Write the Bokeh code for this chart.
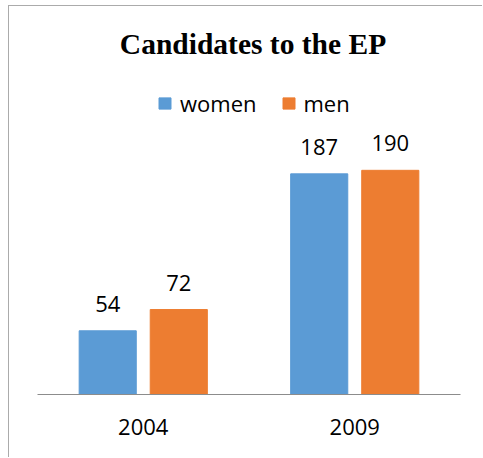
from bokeh.plotting import figure
from bokeh.models import (ColumnDataSource, FactorRange, Range1d, LabelSet, Legend,
                          LegendItem, Label)
from bokeh.transform import dodge
from bokeh.core.properties import value
from bokeh.embed import file_html
from bokeh.resources import INLINE

# ---- data ----
years = ["2004", "2009"]
women = [54, 187]
men = [72, 190]
series = ["women", "men"]
colors = ["#5B9BD5", "#ED7D31"]
title_text = "Candidates to the EP"

src = ColumnDataSource(dict(
    year=years, women=women, men=men,
    women_lbl=[str(v) for v in women],
    men_lbl=[str(v) for v in men],
))

LABEL_FONT = "Open Sans"

p = figure(width=474, height=452,
           x_range=FactorRange(factors=years, range_padding=0),
           y_range=Range1d(0, 324.6),
           output_backend="svg", toolbar_location=None,
           y_axis_location=None,
           min_border_left=28, min_border_right=23,
           min_border_top=5, min_border_bottom=64)
# chart-area border (top and left edges of the chart box)
p.margin = (6, 0, 0, 9)
p.styles = {"box-shadow": "-1px -1px 0 0 #ababab"}

p.title.visible = False
p.xgrid.visible = False
p.ygrid.visible = False
p.outline_line_color = None
p.background_fill_color = "white"
p.border_fill_color = "white"

offset = 0.168
bw = 0.27
r_w = p.vbar(x=dodge("year", -offset, range=p.x_range), top="women", width=bw,
             source=src, fill_color=colors[0], line_color=colors[0])
r_m = p.vbar(x=dodge("year", offset, range=p.x_range), top="men", width=bw,
             source=src, fill_color=colors[1], line_color=colors[1])

for col, off in (("women", -offset), ("men", offset)):
    p.add_layout(LabelSet(x=dodge("year", off, range=p.x_range), y=col, text=col + "_lbl",
                          source=src, y_offset=19, text_align="center",
                          text_baseline="alphabetic", text_font=value(LABEL_FONT),
                          text_font_size="22px", text_color="#000000"))

# x axis
ax = p.xaxis[0]
ax.axis_line_color = "#8c8c8c"
ax.axis_line_width = 1
ax.major_tick_line_color = None
ax.minor_tick_line_color = None
ax.major_label_text_font = LABEL_FONT
ax.major_label_text_font_size = "22px"
ax.major_label_text_color = "#000000"
ax.major_label_standoff = 18

# legend
legend = Legend(items=[LegendItem(label=series[0], renderers=[r_w]),
                       LegendItem(label=series[1], renderers=[r_m])],
                orientation="horizontal", location=(120, 276.5),
                glyph_width=15, glyph_height=14, label_standoff=8, spacing=24,
                padding=0, margin=0, border_line_color=None,
                background_fill_alpha=0,
                label_text_font=LABEL_FONT, label_text_font_size="22px",
                label_text_color="#000000")
p.add_layout(legend)

# title
p.add_layout(Label(x=215.5, y=351, x_units="screen", y_units="screen", text=title_text,
                   text_align="center", text_baseline="alphabetic",
                   text_font="Liberation Serif", text_font_style="bold",
                   text_font_size="29.5px", text_color="#000000"))

open("out.html", "w").write(file_html(p, INLINE))
